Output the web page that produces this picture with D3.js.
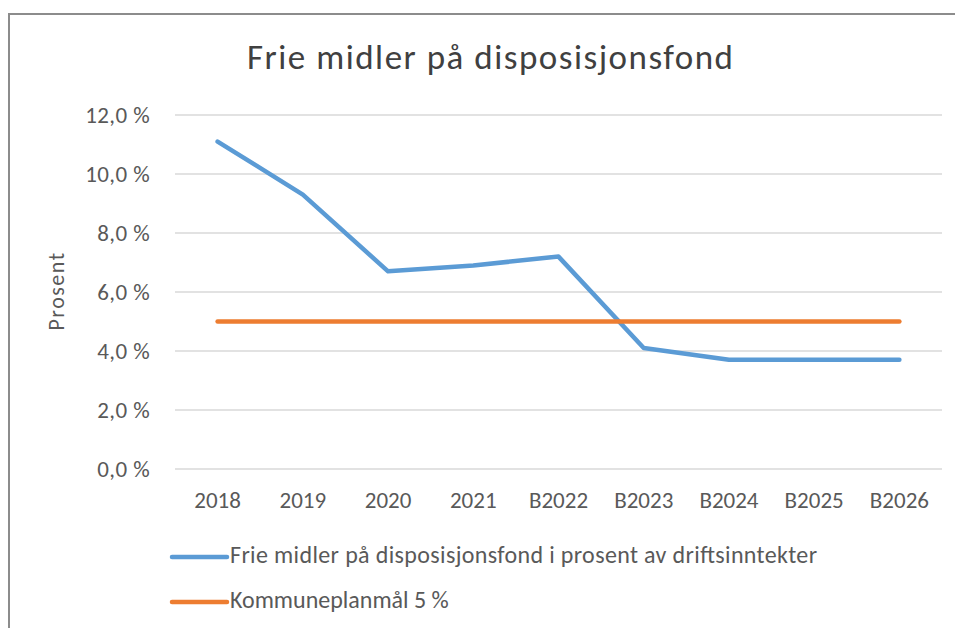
<!DOCTYPE html>
<html>
<head>
<meta charset="utf-8">
<script src="https://cdn.jsdelivr.net/npm/d3@7"></script>
<style>
  html, body { margin: 0; padding: 0; background: #fff; }
  svg { display: block; }
</style>
</head>
<body>
<div id="chart"></div>
<script>
// Data
const categories = ['2018', '2019', '2020', '2021', 'B2022', 'B2023', 'B2024', 'B2025', 'B2026'];
const friMidler  = [11.1, 9.3, 6.7, 6.9, 7.2, 4.1, 3.7, 3.7, 3.7];
const maal       = [5.0, 5.0, 5.0, 5.0, 5.0, 5.0, 5.0, 5.0, 5.0];
const yTicks     = [0, 2, 4, 6, 8, 10, 12];

const seriesNames  = ['Frie midler på disposisjonsfond i prosent av driftsinntekter', 'Kommuneplanmål 5 %'];
const seriesColors = ['#5b9bd5', '#ed7d31'];

const width = 955, height = 628;
const font = 'Carlito, "Open Sans", "Liberation Sans", sans-serif';

const svg = d3.select('#chart').append('svg')
  .attr('width', width).attr('height', height);

// chart frame (runs off the right / bottom edge like in the screenshot)
svg.append('rect')
  .attr('x', 9).attr('y', 14).attr('width', 980).attr('height', 660)
  .attr('fill', '#fff').attr('stroke', '#8c8c8c').attr('stroke-width', 2);

const x = d3.scaleBand().domain(categories).range([175, 942]).padding(0);
const y = d3.scaleLinear().domain([0, 12]).range([469, 115]);
const cx = d => x(d) + x.bandwidth() / 2;

// gridlines
svg.append('g')
  .selectAll('line')
  .data(yTicks)
  .join('line')
  .attr('x1', 175).attr('x2', 942)
  .attr('y1', d => y(d)).attr('y2', d => y(d))
  .attr('stroke', '#d9d9d9').attr('stroke-width', 1.3);

// y axis labels
const fmt = v => d3.format('.1f')(v).replace('.', ',') + ' %';
const yAxis = svg.append('g')
  .attr('transform', 'translate(175,0)')
  .call(d3.axisLeft(y).tickValues(yTicks).tickFormat(fmt).tickSize(0).tickPadding(25));
yAxis.select('.domain').remove();
yAxis.selectAll('text')
  .attr('font-family', font).attr('font-size', 23).attr('fill', '#595959')
  .attr('letter-spacing', 0.4);

// x axis labels
const xAxis = svg.append('g')
  .attr('transform', 'translate(0,469)')
  .call(d3.axisBottom(x).tickSize(0));
xAxis.select('.domain').remove();
xAxis.selectAll('text')
  .attr('y', 39).attr('dy', null)
  .attr('font-family', font).attr('font-size', 23).attr('fill', '#595959');

// y axis title
svg.append('text')
  .attr('transform', 'translate(64,291) rotate(-90)')
  .attr('text-anchor', 'middle')
  .attr('font-family', font).attr('font-size', 22).attr('letter-spacing', 1.5)
  .attr('fill', '#595959')
  .text('Prosent');

// title
svg.append('text')
  .attr('x', 490).attr('y', 69)
  .attr('text-anchor', 'middle')
  .attr('font-family', font).attr('font-size', 35)
  .attr('textLength', 486).attr('lengthAdjust', 'spacing')
  .attr('fill', '#404040')
  .text('Frie midler på disposisjonsfond');

// lines
const line = d3.line()
  .x((d, i) => cx(categories[i]))
  .y(d => y(d));

[friMidler, maal].forEach((vals, k) => {
  svg.append('path')
    .datum(vals)
    .attr('d', line)
    .attr('fill', 'none')
    .attr('stroke', seriesColors[k])
    .attr('stroke-width', 4.5)
    .attr('stroke-linecap', 'round')
    .attr('stroke-linejoin', 'round');
});

// legend
const legend = svg.append('g');
const legendY = [557, 602];
const legendLen = [587, null];
seriesNames.forEach((name, k) => {
  const ly = legendY[k];
  legend.append('line')
    .attr('x1', 172).attr('x2', 227).attr('y1', ly).attr('y2', ly)
    .attr('stroke', seriesColors[k]).attr('stroke-width', 4.5)
    .attr('stroke-linecap', 'round');
  const t = legend.append('text')
    .attr('x', 230).attr('y', ly + 6)
    .attr('font-family', font).attr('font-size', 24)
    .attr('fill', '#595959')
    .text(name);
  if (legendLen[k]) t.attr('textLength', legendLen[k]).attr('lengthAdjust', 'spacing');
});
</script>
</body>
</html>
